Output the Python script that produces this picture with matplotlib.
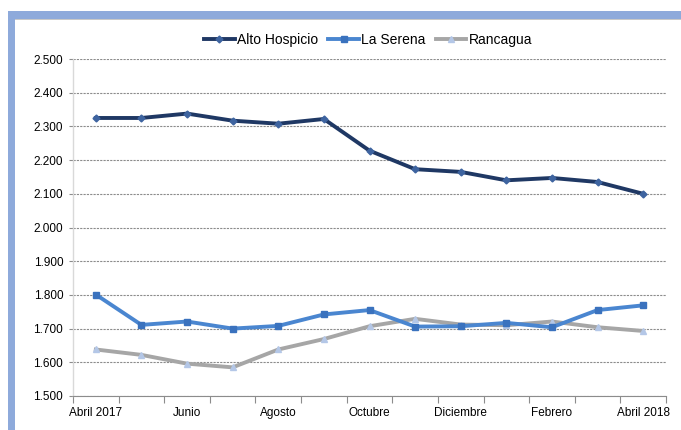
import matplotlib
matplotlib.use("Agg")
import matplotlib.pyplot as plt
from matplotlib.patches import Rectangle
from matplotlib.ticker import FixedLocator, FuncFormatter

plt.rcParams['font.family'] = ['Liberation Sans', 'DejaVu Sans']

months = ["Abril 2017", "Mayo", "Junio", "Julio", "Agosto", "Septiembre", "Octubre",
          "Noviembre", "Diciembre", "Enero", "Febrero", "Marzo", "Abril 2018"]
alto_hospicio = [2.325, 2.325, 2.338, 2.317, 2.308, 2.322, 2.228, 2.173, 2.165, 2.140, 2.147, 2.135, 2.100]
la_serena = [1.801, 1.711, 1.721, 1.700, 1.708, 1.742, 1.755, 1.706, 1.707, 1.717, 1.704, 1.755, 1.769]
rancagua = [1.638, 1.622, 1.596, 1.585, 1.638, 1.669, 1.707, 1.729, 1.712, 1.710, 1.721, 1.704, 1.693]
yticks = [1.5, 1.6, 1.7, 1.8, 1.9, 2.0, 2.1, 2.2, 2.3, 2.4, 2.5]

fig = plt.figure(figsize=(6.81, 4.30), dpi=100)
W, H = 681, 430

# decorative frame
fig.patches.append(Rectangle((8 / W, 0), 7 / W, (430 - 11) / H, transform=fig.transFigure,
                             facecolor='#8EAADB', edgecolor='none', zorder=0))
fig.patches.append(Rectangle((8 / W, (430 - 19) / H), (681 - 8) / W, 8 / H, transform=fig.transFigure,
                             facecolor='#8EAADB', edgecolor='none', zorder=0))
fig.patches.append(Rectangle((15 / W, (430 - 20) / H), (681 - 15) / W, 1 / H, transform=fig.transFigure,
                             facecolor='#C8C8C8', edgecolor='none', zorder=0))

ax = fig.add_axes([73 / W, 1 - 396 / H, (666 - 73) / W, (396 - 59) / H])
x = list(range(len(months)))

ax.plot(x, alto_hospicio, color='#1F3864', lw=2.8, marker='D', ms=3.5,
        mfc='#3E64A0', mec='#3E64A0', label='Alto Hospicio', zorder=4)
ax.plot(x, la_serena, color='#4A86D0', lw=2.8, marker='s', ms=5,
        mfc='#3A72BE', mec='#3A72BE', label='La Serena', zorder=3)
ax.plot(x, rancagua, color='#A6A6A6', lw=2.8, marker='^', ms=5,
        mfc='#B4C7E7', mec='#B4C7E7', label='Rancagua', zorder=2)

ax.set_xlim(-0.5, len(months) - 0.5)
ax.set_ylim(1.5, 2.5)
ax.set_yticks(yticks)
ax.yaxis.set_major_formatter(FuncFormatter(lambda v, p: f"{v:.3f}"))
ax.grid(axis='y', color='#8C8C8C', lw=0.8, ls=(0, (2, 1)))
ax.set_axisbelow(True)

ax.set_xticks(x[::2])
ax.set_xticklabels(months[::2])
ax.xaxis.set_minor_locator(FixedLocator([i - 0.5 for i in range(len(months) + 1)]))
ax.tick_params(axis='x', which='major', length=0, labelsize=8.5, pad=8, colors='black')
ax.tick_params(axis='x', which='minor', length=5, color='#8C8C8C', width=0.8)
ax.tick_params(axis='y', length=3, color='#8C8C8C', labelsize=8.5, pad=4)

for s in ['top', 'right']:
    ax.spines[s].set_visible(False)
ax.spines['left'].set_color('#D9D9D9')
ax.spines['left'].set_linewidth(1.0)
ax.spines['bottom'].set_color('#8C8C8C')
ax.spines['bottom'].set_linewidth(0.8)

leg = fig.legend(loc='center', bbox_to_anchor=(368 / W, 1 - 40 / H), ncol=3, frameon=False,
                 fontsize=10, handlelength=2.2, columnspacing=0.75, handletextpad=0.15)

fig.savefig('out.png', dpi=100)
